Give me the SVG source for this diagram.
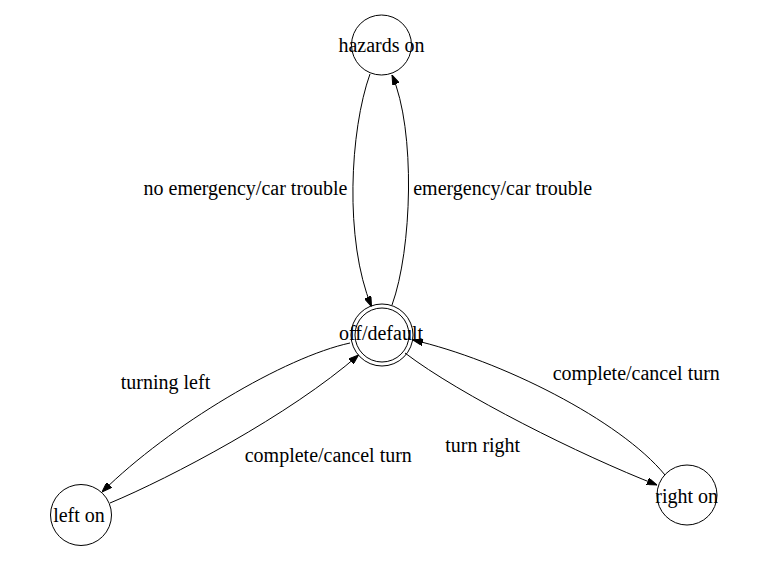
<svg xmlns="http://www.w3.org/2000/svg" width="781" height="584" viewBox="0 0 781 584">
<style>
  .node circle { fill: none; stroke: #000; stroke-width: 1; }
  .node text, .label { font-family: "Liberation Serif", "Times New Roman", serif; font-size: 20px; fill: #000; text-anchor: middle; }
  .edge { fill: none; stroke: #000; stroke-width: 1; marker-end: url(#arrow); }
</style>
<defs>
  <marker id="arrow" viewBox="0 0 10 7" markerWidth="10" markerHeight="7" refX="10" refY="3.5" orient="auto" markerUnits="userSpaceOnUse">
    <path d="M0,0 L10,3.5 L0,7 z" fill="#000" stroke="#000" stroke-width="1"/>
  </marker>
</defs>
<rect width="781" height="584" fill="#fff"/>
<g id="connectors">
  <path class="edge" d="M370,74 C350,130 344,240 371.5,306.5"/>
  <text class="label" x="245.5" y="195">no emergency/car trouble</text>
  <path class="edge" d="M392,305 C412,250 416,130 392,75"/>
  <text class="label" x="502.7" y="195">emergency/car trouble</text>
  <path class="edge" d="M350,343 C285,357 170,425 102,492"/>
  <text class="label" x="165.5" y="389">turning left</text>
  <path class="edge" d="M110,503 C170,478 290,415 358.5,355"/>
  <text class="label" x="328.3" y="461.7">complete/cancel turn</text>
  <path class="edge" d="M405,353 C460,395 580,455 657,485"/>
  <text class="label" x="482.7" y="451.7">turn right</text>
  <path class="edge" d="M665,475 C620,420 500,360 413,340"/>
  <text class="label" x="636.3" y="380">complete/cancel turn</text>
</g>
<g id="node-hazards" class="node">
  <circle cx="381.5" cy="45" r="30"/>
  <text x="381.5" y="52">hazards on</text>
</g>
<g id="node-off" class="node">
  <circle cx="382" cy="335" r="31"/>
  <circle cx="382" cy="335" r="27"/>
  <text x="381" y="340">off/default</text>
</g>
<g id="node-left" class="node">
  <circle cx="81" cy="515" r="30.5"/>
  <text x="79" y="521.7">left on</text>
</g>
<g id="node-right" class="node">
  <circle cx="687" cy="495" r="30"/>
  <text x="686.7" y="503">right on</text>
</g>
</svg>
